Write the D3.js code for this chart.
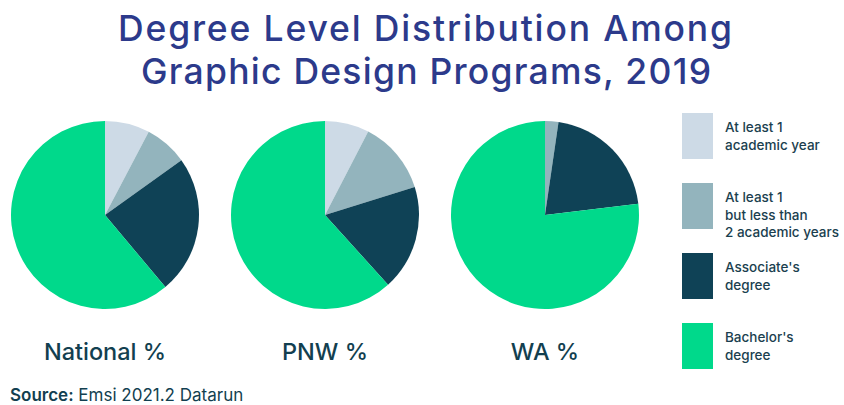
<!DOCTYPE html>
<html>
<head>
<meta charset="utf-8">
<script src="https://cdn.jsdelivr.net/npm/d3@7"></script>
<style>
  body { margin: 0; background: #fff; }
  svg text { font-family: Inter, "Open Sans", sans-serif; }
</style>
</head>
<body>
<div id="chart"></div>
<script>
const WIDTH = 844;
const HEIGHT = 405;
const RADIUS = 94;

// data
const categories = ["At least 1 academic year", "At least 1 but less than 2 academic years", "Associate's degree", "Bachelor's degree"];
const legendLines = [["At least 1", "academic year"], ["At least 1", "but less than", "2 academic years"], ["Associate's", "degree"], ["Bachelor's", "degree"]];
const regions = ["National %", "PNW %", "WA %"];
const nationalValues = [7.7, 7.4, 23.8, 61.1];
const pnwValues = [7.6, 12.6, 18.1, 61.7];
const waValues = [0, 2.3, 20.8, 76.9];
const colors = ["#cddae6", "#93b4bd", "#0f4256", "#00d98b"];

const seriesValues = [nationalValues, pnwValues, waValues];

var svg = d3.select("#chart")
  .append("svg")
  .attr("width", WIDTH)
  .attr("height", HEIGHT);

// title
svg.append("text")
  .attr("x", 425)
  .attr("y", 41)
  .attr("text-anchor", "middle")
  .attr("font-size", 35.5)
  .attr("font-weight", 500)
  .attr("textLength", 614)
  .attr("lengthAdjust", "spacing")
  .attr("fill", "#2c3a8b")
  .text("Degree Level Distribution Among");

svg.append("text")
  .attr("x", 426)
  .attr("y", 84)
  .attr("text-anchor", "middle")
  .attr("font-size", 35.5)
  .attr("font-weight", 500)
  .attr("textLength", 570)
  .attr("lengthAdjust", "spacing")
  .attr("fill", "#2c3a8b")
  .text("Graphic Design Programs, 2019");

var color = d3.scaleOrdinal().domain(categories).range(colors);
var xCenter = d3.scalePoint().domain(regions).range([105, 545]);

var pie = d3.pie().sort(null).value(d => d.value);
var arc = d3.arc().innerRadius(0).outerRadius(RADIUS);

regions.forEach(function(region, i) {
  var data = categories.map((c, j) => ({ category: c, value: seriesValues[i][j] }));
  var g = svg.append("g")
    .attr("transform", "translate(" + xCenter(region) + ",215)");

  g.selectAll("path")
    .data(pie(data))
    .enter()
    .append("path")
    .attr("d", arc)
    .attr("fill", d => color(d.data.category));

  svg.append("text")
    .attr("x", xCenter(region))
    .attr("y", 360)
    .attr("text-anchor", "middle")
    .attr("font-size", 23.5)
    .attr("font-weight", 500)
    .attr("fill", "#123f50")
    .text(region);
});

// legend
var yLegend = d3.scalePoint().domain(categories).range([113, 323]);

var legend = svg.selectAll(".legend")
  .data(categories)
  .enter()
  .append("g")
  .attr("class", "legend")
  .attr("transform", d => "translate(682," + yLegend(d) + ")");

legend.append("rect")
  .attr("width", 31)
  .attr("height", 46)
  .attr("fill", d => color(d));

legend.append("text")
  .attr("x", 43)
  .attr("y", 19)
  .attr("font-size", 13.5)
  .attr("font-weight", 500)
  .attr("fill", "#1b3f4f")
  .selectAll("tspan")
  .data((d, i) => legendLines[i])
  .enter()
  .append("tspan")
  .attr("x", 43)
  .attr("dy", (d, i) => i === 0 ? 0 : 17.5)
  .text(d => d);

// source
var src = svg.append("text")
  .attr("x", 10)
  .attr("y", 401)
  .attr("font-size", 17)
  .attr("fill", "#123f50");
src.append("tspan").attr("font-weight", 600).text("Source:");
src.append("tspan").text(" Emsi 2021.2 Datarun");
</script>
</body>
</html>
